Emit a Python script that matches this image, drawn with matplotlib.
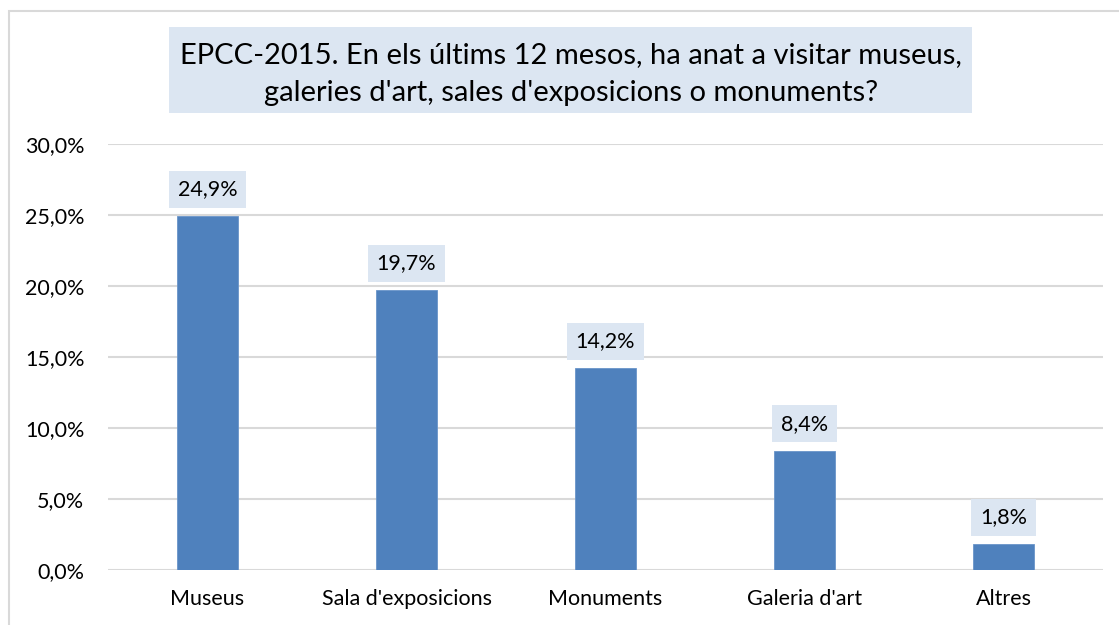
import matplotlib
matplotlib.use("Agg")
import matplotlib.pyplot as plt
from matplotlib.patches import Rectangle
from matplotlib.ticker import FuncFormatter

categories = ["Museus", "Sala d'exposicions", "Monuments", "Galeria d'art", "Altres"]
values = [24.9, 19.7, 14.2, 8.4, 1.8]
yticks = [0, 5, 10, 15, 20, 25, 30]
title = "EPCC-2015. En els últims 12 mesos, ha anat a visitar museus,\ngaleries d'art, sales d'exposicions o monuments?"

plt.rcParams['font.family'] = ['Lato', 'DejaVu Sans']

W, H = 1119, 625
fig = plt.figure(figsize=(W / 100, H / 100), dpi=100)
fig.patch.set_facecolor("white")

# outer border (left and top visible)
fig.patches.append(Rectangle((8.5 / W, -0.1), 2.0, 1 - 11.5 / H + 0.1,
                             transform=fig.transFigure, fill=False,
                             edgecolor="#D9D9D9", linewidth=1.5))

ax = fig.add_axes([108 / W, 1 - 570 / H, (1103 - 108) / W, (570 - 144) / H])
x = list(range(len(categories)))
ax.bar(x, values, width=0.31, color="#4F81BD", edgecolor="#6A95C9", linewidth=0.6, zorder=3)
ax.set_xlim(-0.5, len(categories) - 0.5)
ax.set_ylim(0, 30)
ax.set_yticks(yticks)
ax.yaxis.set_major_formatter(FuncFormatter(lambda v, p: f"{v:.1f}".replace(".", ",") + "%"))
ax.set_xticks(x)
ax.set_xticklabels(categories)
ax.grid(axis="y", color="#D9D9D9", linewidth=1.5, zorder=0)
for s in ax.spines.values():
    s.set_visible(False)
ax.tick_params(axis="both", length=0, colors="black")
ax.tick_params(axis="y", pad=17, labelsize=15.5)
ax.tick_params(axis="x", pad=14, labelsize=15.5)

for xi, v in zip(x, values):
    ax.annotate(f"{v:.1f}".replace(".", ",") + "%", (xi, v), xytext=(0, 19.5),
                textcoords="offset points", ha="center", va="center",
                fontsize=15.5, color="black", zorder=4,
                bbox=dict(boxstyle="square,pad=0.4", facecolor="#DCE6F2", edgecolor="none"))

# title box
fig.patches.append(Rectangle((169 / W, 1 - 113 / H), (972 - 169) / W, 86 / H,
                             transform=fig.transFigure, facecolor="#DCE6F2",
                             edgecolor="none"))
fig.text(571 / W, 1 - 74 / H, title, ha="center", va="center", fontsize=21,
         linespacing=1.55, color="black")

fig.savefig("out.png", dpi=100)
